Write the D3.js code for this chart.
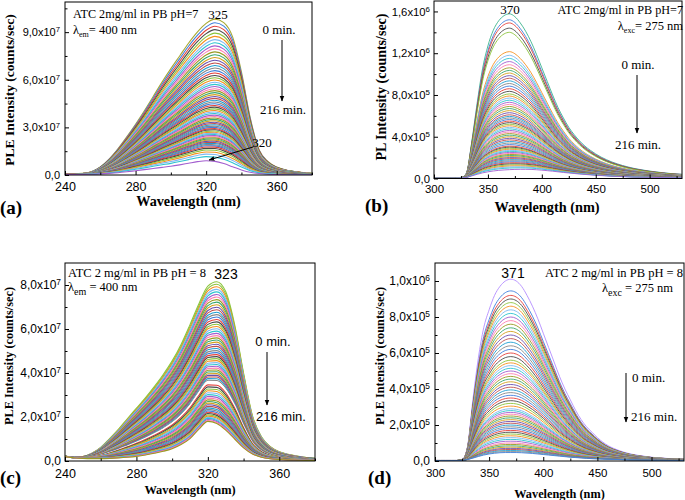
<!DOCTYPE html>
<html><head><meta charset="utf-8">
<script src="https://cdn.jsdelivr.net/npm/d3@7"></script>
<style>body{margin:0;background:#fff}svg{display:block}</style>
</head><body>
<svg id="chart" width="685" height="500"></svg>
<script>
// ---------------- DATA ----------------
// Panels (a),(c): excitation spectra, wavelength grid (nm)
const wlAC = [240,245,250,255,260,265,270,275,280,285,290,295,300,305,310,315,320,325,330,335,340,345,350,355,360,365,370,375,380];
// (a) spectrum at 0 min and at 216 min (x1e7 counts/sec)
const topA = [0.08,0.08,0.10,0.20,0.50,1.00,1.65,2.40,3.20,4.05,4.95,5.85,6.70,7.50,8.30,9.00,9.55,9.82,9.60,8.70,6.50,3.60,1.60,0.85,0.50,0.32,0.22,0.15,0.10];
const botA = [0.03,0.03,0.04,0.05,0.07,0.10,0.14,0.20,0.27,0.34,0.41,0.48,0.55,0.64,0.74,0.84,0.90,0.86,0.72,0.52,0.32,0.17,0.09,0.05,0.03,0.02,0.02,0.01,0.01];
// (a) relative amplitude of the decaying component for each measurement (0 -> 216 min)
const fracA = [1.000,0.975,0.950,0.926,0.902,0.879,0.856,0.834,0.812,0.791,0.770,0.750,0.730,0.711,0.692,0.674,0.656,0.638,0.621,0.604,0.588,0.572,0.556,0.541,0.526,0.511,0.497,0.483,0.469,0.456,0.443,0.430,0.417,0.405,0.393,0.381,0.369,0.358,0.347,0.336,0.325,0.315,0.305,0.295,0.285,0.275,0.266,0.257,0.248,0.239,0.230,0.222,0.213,0.205,0.197,0.189,0.181,0.173,0.165,0.157,0.149,0.141,0.133,0.125,0.117,0.109,0.100,0.090,0.078,0.064,0.048,0.030,0.000];
// (c)
const topC = [0.22,0.17,0.20,0.35,0.62,1.02,1.45,1.93,2.40,2.87,3.38,3.93,4.55,5.30,6.20,7.15,7.95,8.15,7.70,6.20,4.00,2.05,1.10,0.65,0.42,0.30,0.22,0.16,0.12];
const botC = [0.20,0.15,0.12,0.11,0.11,0.12,0.14,0.17,0.21,0.27,0.35,0.44,0.56,0.75,1.02,1.45,1.80,1.70,1.40,1.00,0.60,0.32,0.17,0.10,0.07,0.05,0.04,0.03,0.03];
const fracC = [1.000,0.982,0.964,0.946,0.928,0.910,0.892,0.874,0.856,0.838,0.820,0.802,0.785,0.768,0.751,0.734,0.717,0.700,0.684,0.668,0.652,0.636,0.620,0.604,0.589,0.574,0.559,0.544,0.529,0.514,0.500,0.486,0.472,0.458,0.444,0.430,0.417,0.404,0.391,0.378,0.365,0.352,0.340,0.328,0.316,0.304,0.292,0.270,0.255,0.240,0.226,0.212,0.198,0.185,0.172,0.159,0.147,0.135,0.123,0.111,0.100,0.089,0.078,0.068,0.058,0.048,0.039,0.030,0.022,0.014,0.007,0.000];
const whiteC = [46];

// Panels (b),(d): emission spectra, wavelength grid (nm)
const wlBD = [300,305,310,315,320,325,330,335,340,345,350,355,360,365,370,375,380,385,390,395,400,405,410,415,420,425,430,435,440,445,450,455,460,465,470,475,480,485,490,495,500,505,510,515,520,525,530];
// (b) x1e6 counts/sec
const topB = [0.005,0.005,0.005,0.005,0.005,0.008,0.05,0.35,0.72,1.05,1.27,1.42,1.51,1.56,1.577,1.55,1.49,1.41,1.31,1.19,1.06,0.93,0.80,0.68,0.58,0.49,0.42,0.36,0.31,0.27,0.235,0.205,0.18,0.158,0.14,0.124,0.11,0.098,0.088,0.079,0.071,0.064,0.058,0.052,0.047,0.043,0.04];
const botB = [0.003,0.003,0.003,0.003,0.003,0.004,0.01,0.025,0.04,0.054,0.064,0.072,0.078,0.082,0.085,0.087,0.088,0.088,0.087,0.084,0.08,0.075,0.07,0.064,0.058,0.053,0.048,0.043,0.039,0.035,0.031,0.028,0.025,0.022,0.02,0.018,0.016,0.014,0.013,0.012,0.011,0.01,0.009,0.008,0.008,0.007,0.007];
// (b) peak intensity at 370 nm for each measurement (x1e6)
const peaksB = [1.577,1.52,1.49,1.44,1.40,1.215,1.18,1.15,1.12,1.09,1.06,1.035,1.01,0.985,0.96,0.935,0.91,0.885,0.86,0.835,0.81,0.79,0.77,0.75,0.73,0.71,0.69,0.67,0.65,0.63,0.61,0.595,0.58,0.565,0.55,0.535,0.52,0.505,0.49,0.475,0.46,0.445,0.43,0.415,0.40,0.385,0.37,0.355,0.34,0.325,0.31,0.30,0.29,0.28,0.27,0.26,0.25,0.24,0.23,0.22,0.21,0.20,0.19,0.18,0.17,0.16,0.15,0.14,0.13,0.12,0.11,0.10,0.085];
// (d)
const topD = [0.003,0.003,0.003,0.003,0.003,0.006,0.08,0.34,0.57,0.74,0.84,0.92,0.97,1.00,1.01,1.00,0.97,0.92,0.86,0.79,0.71,0.63,0.55,0.47,0.40,0.34,0.28,0.23,0.19,0.16,0.13,0.105,0.085,0.07,0.058,0.048,0.04,0.034,0.029,0.025,0.021,0.018,0.016,0.014,0.012,0.011,0.01];
const botD = [0.002,0.002,0.002,0.002,0.002,0.003,0.008,0.016,0.025,0.033,0.039,0.043,0.046,0.047,0.047,0.047,0.046,0.044,0.042,0.039,0.036,0.033,0.03,0.027,0.024,0.021,0.019,0.017,0.015,0.013,0.012,0.011,0.01,0.009,0.008,0.007,0.006,0.006,0.005,0.005,0.004,0.004,0.004,0.003,0.003,0.003,0.003];
const peaksD = [1.01,0.945,0.92,0.90,0.88,0.86,0.84,0.82,0.80,0.78,0.76,0.74,0.72,0.70,0.68,0.66,0.64,0.62,0.60,0.58,0.56,0.545,0.53,0.515,0.50,0.485,0.47,0.455,0.44,0.425,0.41,0.395,0.38,0.365,0.35,0.335,0.32,0.305,0.29,0.28,0.27,0.26,0.25,0.24,0.23,0.22,0.21,0.20,0.19,0.18,0.17,0.16,0.15,0.14,0.13,0.12,0.11,0.10,0.092,0.084,0.077,0.07,0.064,0.058,0.052,0.047];

// Ticks
const xTicksAC = [240,280,320,360];
const xMinorAC = [260,300,340,380];
const xTicksBD = [300,350,400,450,500];
const xMinorBD = [325,375,425,475,525];
const yTicksA = [0,3e7,6e7,9e7];
const yLabelsA = ["0,0","3,0x10^7","6,0x10^7","9,0x10^7"];
const yMinorA = [1.5e7,4.5e7,7.5e7,10.5e7];
const yTicksB = [0,4e5,8e5,1.2e6,1.6e6];
const yLabelsB = ["0,0","4,0x10^5","8,0x10^5","1,2x10^6","1,6x10^6"];
const yMinorB = [2e5,6e5,1.0e6,1.4e6];
const yTicksC = [0,2e7,4e7,6e7,8e7];
const yLabelsC = ["0,0","2,0x10^7","4,0x10^7","6,0x10^7","8,0x10^7"];
const yMinorC = [1e7,3e7,5e7,7e7];
const yTicksD = [0,2e5,4e5,6e5,8e5,1e6];
const yLabelsD = ["0,0","2,0x10^5","4,0x10^5","6,0x10^5","8,0x10^5","1,0x10^6"];
const yMinorD = [1e5,3e5,5e5,7e5,9e5];

const palette = ["#3f7fdc","#e5403a","#4a4a4a","#8cc43c","#f5901e","#7fb8f0","#2ec4cf","#a35fcf","#ff7fb0","#9a9a22","#3aa870","#d4a020","#6a4fb0","#c0504d","#1f9fd0","#888888"];

// ---------------- DRAW ----------------
const SERIF = "'Liberation Serif','Times New Roman',serif";
const SANS = "'Liberation Sans',Arial,sans-serif";
const svg = d3.select("#chart");
const defs = svg.append("defs");
defs.append("marker").attr("id","ah").attr("viewBox","0 0 10 10").attr("refX",9).attr("refY",5)
  .attr("markerWidth",6).attr("markerHeight",6).attr("markerUnits","userSpaceOnUse").attr("orient","auto")
  .append("path").attr("d","M0,1 L10,5 L0,9 z").attr("fill","#000");

function drawPanel(p){
  const x = d3.scaleLinear().domain(p.xDom).range([p.l,p.r]);
  const y = d3.scaleLinear().domain(p.yDom).range([p.b,p.t]);
  const g = svg.append("g");
  defs.append("clipPath").attr("id","clip"+p.id).append("rect")
    .attr("x",p.l).attr("y",p.t).attr("width",p.r-p.l).attr("height",p.b-p.t);
  const line = d3.line().x(d=>x(d[0])).y(d=>y(d[1])).curve(d3.curveMonotoneX);
  const cg = g.append("g").attr("clip-path",`url(#clip${p.id})`);
  const ref = p.wl.indexOf(p.refWl);
  const fr = p.fracs ? p.fracs : p.peaks.map(v=>(v-p.bot[ref])/(p.top[ref]-p.bot[ref]));
  fr.forEach((f,i)=>{
    const pts = p.wl.map((w,j)=>[w,(p.bot[j]+f*(p.top[j]-p.bot[j]))*p.unit]);
    let col = i===0 ? p.firstColor : palette[(i-1+p.shift)%palette.length];
    if (p.white && p.white.includes(i)) col = "#ffffff";
    cg.append("path").attr("d",line(pts)).attr("fill","none").attr("stroke",col).attr("stroke-width",p.sw);
  });
  // frame
  g.append("rect").attr("x",p.l).attr("y",p.t).attr("width",p.r-p.l).attr("height",p.b-p.t)
    .attr("fill","none").attr("stroke","#000").attr("stroke-width",1);
  // x axis
  const xa = g.append("g").attr("transform",`translate(0,${p.b})`)
    .call(d3.axisBottom(x).tickValues(p.xTicks).tickSize(-4).tickPadding(p.xPad).tickFormat(d=>d));
  g.append("g").attr("transform",`translate(0,${p.b})`)
    .call(d3.axisBottom(x).tickValues(p.xMinor).tickSize(-2.5).tickFormat(""))
    .select(".domain").remove();
  xa.select(".domain").remove();
  xa.selectAll("text").attr("font-family",SANS).attr("font-size",p.xFs).attr("fill","#000");
  // y axis
  const ya = g.append("g").attr("transform",`translate(${p.l},0)`)
    .call(d3.axisLeft(y).tickValues(p.yTicks).tickSize(-4).tickPadding(p.yPad).tickFormat(""));
  g.append("g").attr("transform",`translate(${p.l},0)`)
    .call(d3.axisLeft(y).tickValues(p.yMinor.filter(v=>v<=p.yDom[1])).tickSize(-2.5).tickFormat(""))
    .select(".domain").remove();
  ya.select(".domain").remove();
  ya.selectAll(".tick").each(function(d){
    const k = p.yTicks.indexOf(d);
    const parts = p.yLabels[k].split("^");
    const t = d3.select(this).select("text").attr("font-family",SANS).attr("font-size",p.yFs).attr("fill","#000");
    t.append("tspan").text(parts[0]);
    if (parts[1]) t.append("tspan").attr("dy","-0.5em").attr("font-size",p.yFs*0.7).text(parts[1]);
  });
  svg.selectAll("g.tick line").attr("stroke","#000");
  // titles
  svg.append("text").attr("x",(p.l+p.r)/2 + (p.xtDx||0)).attr("y",p.xtY).attr("text-anchor","middle")
    .attr("font-family",SERIF).attr("font-weight","bold").attr("font-size",p.xtFs).text("Wavelength (nm)");
  svg.append("text").attr("transform",`translate(${p.ytX},${p.ytY}) rotate(-90)`).attr("text-anchor","middle")
    .attr("font-family",SERIF).attr("font-weight","bold").attr("font-size",p.ytFs).text(p.yTitle);
  svg.append("text").attr("x",p.labX).attr("y",p.labY).attr("font-family",SERIF).attr("font-weight","bold")
    .attr("font-size",19).text(p.label);
}

function txt(x,y,s,opt){
  opt = opt||{};
  return svg.append("text").attr("x",x).attr("y",y).attr("text-anchor",opt.anchor||"start")
    .attr("font-family",opt.sans?SANS:SERIF).attr("font-size",opt.fs||13).attr("fill","#000").text(s);
}
function lam(x,y,sub,rest,opt){
  const t = svg.append("text").attr("x",x).attr("y",y).attr("text-anchor",opt.anchor||"start")
    .attr("font-family",SERIF).attr("font-size",opt.fs||13).attr("fill","#000");
  t.append("tspan").text("λ");
  t.append("tspan").attr("dy",opt.subDy).attr("font-size",opt.subFs).text(sub);
  t.append("tspan").attr("dy",-opt.subDy).text(rest);
}
function arrow(x1,y1,x2,y2){
  svg.append("line").attr("x1",x1).attr("y1",y1).attr("x2",x2).attr("y2",y2)
    .attr("stroke","#000").attr("stroke-width",1).attr("marker-end","url(#ah)");
}

// (a)
drawPanel({id:"a",l:65,r:312,t:2,b:175,xDom:[240,380],yDom:[0,1.09e8],wl:wlAC,top:topA,bot:botA,unit:1e7,sw:1.1,
  fracs:fracA,firstColor:"#a8a830",shift:0,xTicks:xTicksAC,xMinor:xMinorAC,yTicks:yTicksA,yLabels:yLabelsA,yMinor:yMinorA,
  xFs:12.5,yFs:11,xPad:7.5,yPad:5,xtY:206,xtFs:14.2,yTitle:"PLE Intensity (counts/sec)",ytX:14,ytY:90,ytFs:13.5,
  label:"(a)",labX:0,labY:214});
// (b)
drawPanel({id:"b",l:434,r:682,t:1,b:178.5,xDom:[300,530],yDom:[0,1.7e6],wl:wlBD,top:topB,bot:botB,unit:1e6,sw:0.9,
  peaks:peaksB,refWl:370,firstColor:"#3cb48c",shift:0,xTicks:xTicksBD,xMinor:xMinorBD,yTicks:yTicksB,yLabels:yLabelsB,yMinor:yMinorB,
  xFs:11.5,yFs:11.3,xPad:6.5,yPad:4,xtY:212,xtFs:14.3,xtDx:-11,yTitle:"PL Intensity (counts/sec)",ytX:386,ytY:87,ytFs:14,
  label:"(b)",labX:365,labY:212});
// (c)
drawPanel({id:"c",l:65,r:315,t:263,b:461,xDom:[240,380],yDom:[0,9e7],wl:wlAC,top:topC,bot:botC,unit:1e7,sw:1.1,
  fracs:fracC,white:whiteC,firstColor:"#8dc63f",shift:3,xTicks:xTicksAC,xMinor:xMinorAC,yTicks:yTicksC,yLabels:yLabelsC,yMinor:yMinorC,
  xFs:12.5,yFs:12,xPad:8.5,yPad:4,xtY:494,xtFs:12.4,yTitle:"PLE Intensity (counts/sec)",ytX:12.5,ytY:356,ytFs:12.3,
  label:"(c)",labX:0,labY:484});
// (d)
drawPanel({id:"d",l:435,r:684,t:263,b:461,xDom:[300,530],yDom:[0,1.1e6],wl:wlBD,top:topD,bot:botD,unit:1e6,sw:0.9,
  peaks:peaksD,refWl:370,firstColor:"#b38cff",shift:0,xTicks:xTicksBD,xMinor:xMinorBD,yTicks:yTicksD,yLabels:yLabelsD,yMinor:yMinorD,
  xFs:11.5,yFs:12,xPad:8,yPad:5,xtY:498,xtFs:12.3,yTitle:"PLE Intensity (counts/sec)",ytX:384,ytY:356,ytFs:12.3,
  label:"(d)",labX:368,labY:484});

// annotations (a)
txt(73,18,"ATC 2mg/ml in PB pH=7",{fs:12.2});
lam(73,34,"em","= 400 nm",{fs:12.5,subDy:3,subFs:8});
txt(218,19,"325",{anchor:"middle"});
txt(279,34,"0 min.",{anchor:"middle"});
arrow(282,40,282,101);
txt(283,114,"216 min.",{anchor:"middle"});
txt(262,147,"320",{anchor:"middle"});
arrow(253,147,209,160);
// annotations (b)
txt(510,14,"370",{anchor:"middle"});
txt(683,14,"ATC 2mg/ml in PB pH=7",{anchor:"end",fs:12.2});
lam(683,30,"exc","= 275 nm",{anchor:"end",fs:12.5,subDy:3,subFs:8});
txt(638,69,"0 min.",{anchor:"middle"});
arrow(637,75,637,133);
txt(638,149,"216 min.",{anchor:"middle"});
// annotations (c)
txt(68,277,"ATC 2 mg/ml in PB pH = 8",{fs:12.5});
lam(68,291,"em"," = 400 nm",{fs:12.5,subDy:4,subFs:10});
txt(226,279,"323",{anchor:"middle",sans:true,fs:14});
txt(273,346,"0 min.",{anchor:"middle",sans:true});
arrow(267,352,267,405);
txt(281,421,"216 min.",{anchor:"middle",sans:true});
// annotations (d)
txt(513,278,"371",{anchor:"middle",sans:true,fs:14});
txt(683,277,"ATC 2 mg/ml in PB pH = 8",{anchor:"end",fs:12.5});
lam(673,292,"exc"," = 275 nm",{anchor:"end",fs:12.5,subDy:4,subFs:10});
txt(632,382,"0 min.");
arrow(626,373,626,422);
txt(631,421,"216 min.");
</script>
</body></html>
